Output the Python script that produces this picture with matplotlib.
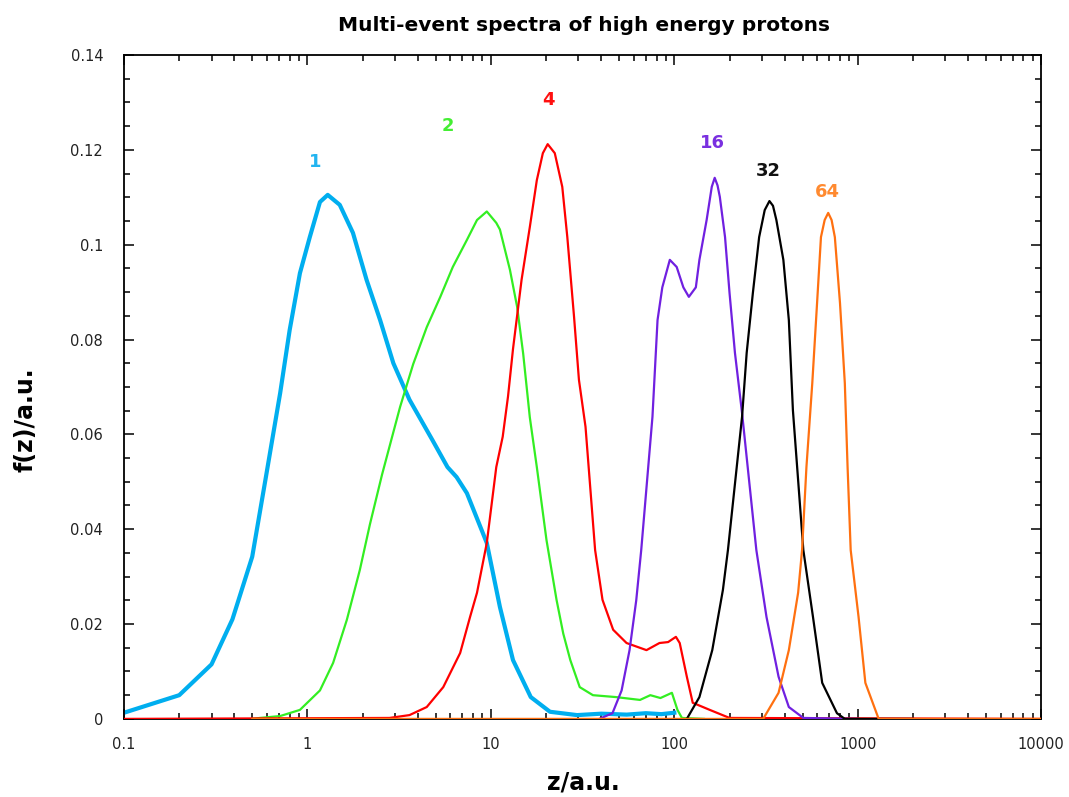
import numpy as np
import matplotlib
matplotlib.use('Agg')
import matplotlib.pyplot as plt
from matplotlib.ticker import LogLocator, FixedLocator, FuncFormatter, MultipleLocator

# curve "1" (thick cyan)
z1 = [0.1, 0.2, 0.3, 0.39, 0.5, 0.59, 0.71, 0.8, 0.91, 1.03, 1.17, 1.29, 1.5, 1.77,
      2.1, 2.49, 2.94, 3.6, 4.8, 5.8, 6.5, 7.4, 9.5, 11.2, 13.2, 16.5, 21, 29.5,
      40, 55, 70, 85, 100]
f1 = [0.0013, 0.005, 0.0115, 0.021, 0.0342, 0.0504, 0.0687, 0.082, 0.094, 0.1016,
      0.109, 0.1105, 0.1084, 0.1025, 0.0926, 0.0841, 0.075, 0.0673, 0.0588, 0.0531,
      0.051, 0.0476, 0.0371, 0.0236, 0.0124, 0.0046, 0.0015, 0.0008,
      0.0011, 0.0009, 0.0012, 0.001, 0.0013]

# curve "2" (green)
z2 = [0.5, 0.55, 0.71, 0.91, 1.17, 1.38, 1.64, 1.93, 2.19, 2.55, 3.2, 3.77, 4.47,
      5.3, 6.2, 7.4, 8.4, 9.5, 10.7, 11.2, 12.7, 13.9, 15.0, 16.3, 17.8, 20.1,
      22.8, 24.8, 27.1, 30.5, 36, 48, 65, 74, 84, 97, 104, 110, 145]
f2 = [0.0, 0.0002, 0.0006, 0.0019, 0.006, 0.0118, 0.0209, 0.0314, 0.041, 0.0515,
      0.0658, 0.0748, 0.0826, 0.089, 0.0953, 0.101, 0.1052, 0.107, 0.1046, 0.1032,
      0.0947, 0.0869, 0.077, 0.0636, 0.0531, 0.0377, 0.0251, 0.018, 0.0124,
      0.0067, 0.005, 0.0046, 0.004, 0.005, 0.0044, 0.0055, 0.0019, 0.0002, 0.0]

# curve "4" (red)
z4 = [0.1, 2.8, 3.6, 4.47, 5.5, 6.8, 7.7, 8.4, 9.5, 10.7, 11.6,
      12.4, 13.2, 14.7, 16.3, 17.8, 19.2, 20.4, 22.3, 24.5, 26.1, 28.4, 30.2,
      32.8, 37, 40.6, 46.4, 54.9, 70.5, 83, 92.5, 102, 107, 117, 126, 156, 200,
      10000]
f4 = [0.0, 0.0002, 0.0008, 0.0025, 0.0067, 0.0139, 0.0215, 0.0266, 0.0371, 0.0531,
      0.0595, 0.068, 0.078, 0.0926, 0.1037, 0.1136, 0.1193, 0.1212, 0.1193, 0.1122,
      0.1016, 0.0848, 0.0715, 0.0616, 0.0356, 0.0251, 0.0188, 0.016, 0.0145,
      0.016, 0.0162, 0.0173, 0.016, 0.0089, 0.0034, 0.0019, 0.0002, 0.0]

# curve "16" (purple)
z16 = [39, 46, 51.6, 57, 62, 66, 76, 81, 86, 94.5, 103, 112, 120, 131, 137, 150,
       160, 166, 172, 177, 189, 200, 214, 234, 280, 318, 370, 421, 505, 1000]
f16 = [0.0, 0.0012, 0.006, 0.0145, 0.025, 0.0356, 0.0637, 0.0841, 0.091, 0.0968,
       0.0953, 0.091, 0.089, 0.091, 0.0968, 0.1052, 0.1122, 0.1141, 0.1125, 0.1101,
       0.1016, 0.0898, 0.0772, 0.0645, 0.0356, 0.0215, 0.0089, 0.0025, 0.0002, 0.0]

# curve "32" (black)
z32 = [117, 137, 161, 184, 196, 234, 248, 268, 290, 311, 330, 345, 360, 393, 421,
       443, 505, 570, 640, 770, 850, 2000]
f32 = [0.0, 0.0046, 0.0145, 0.0272, 0.0356, 0.0637, 0.0772, 0.0898, 0.1016,
       0.1073, 0.1092, 0.1082, 0.1052, 0.0968, 0.0841, 0.0651, 0.0356, 0.0215,
       0.0076, 0.0012, 0.0, 0.0]

# curve "64" (orange)
z64 = [0.5, 305, 370, 421, 473, 497, 525, 565, 600, 630, 660, 690, 720, 750, 800,
       850, 880, 915, 1010, 1100, 1300, 10000]
f64 = [0.0, 0.0, 0.0055, 0.0145, 0.0266, 0.0356, 0.0531, 0.0708, 0.0877, 0.1016,
       0.1052, 0.1067, 0.1052, 0.1016, 0.0877, 0.0708, 0.0531, 0.0356, 0.0215,
       0.0076, 0.0, 0.0]

labels = ['1', '2', '4', '16', '32', '64']
label_pos = [(1.1, 0.1175), (5.8, 0.125), (20.5, 0.1305), (162, 0.1215),
             (325, 0.1155), (680, 0.1112)]
line_colors = ['#00aeef', '#33ee22', '#ff0000', '#7020e0', '#000000', '#ff7010']
text_colors = ['#22b4f0', '#44ee33', '#ff1010', '#7a30e0', '#111111', '#ff8a30']

xticks = [0.1, 1, 10, 100, 1000, 10000]
xticklabels = ['0.1', '1', '10', '100', '1000', '10000']

fig = plt.figure(figsize=(10.69, 7.97), dpi=100)
ax = fig.add_axes([0.116, 0.098, 0.858, 0.833])

series = [(z1, f1), (z2, f2), (z4, f4), (z16, f16), (z32, f32), (z64, f64)]
for i, (z, f) in enumerate(series):
    lw = 3.0 if i == 0 else 1.6
    ax.plot(z, f, color=line_colors[i], lw=lw, zorder=2 + i)

for i, t in enumerate(labels):
    ax.text(label_pos[i][0], label_pos[i][1], t, color=text_colors[i],
            fontsize=13, fontweight='bold', ha='center', va='center')

ax.set_xscale('log')
ax.set_xlim(0.1, 10000)
ax.set_ylim(0, 0.14)
ax.xaxis.set_major_locator(FixedLocator(xticks))
ax.xaxis.set_major_formatter(FuncFormatter(lambda v, p: xticklabels[xticks.index(v)] if v in xticks else ''))
ax.xaxis.set_minor_locator(LogLocator(base=10, subs=np.arange(2, 10)))
ax.xaxis.set_minor_formatter(FuncFormatter(lambda v, p: ''))
ax.yaxis.set_major_locator(MultipleLocator(0.02))
ax.yaxis.set_minor_locator(MultipleLocator(0.005))
ax.yaxis.set_major_formatter(FuncFormatter(lambda v, p: '%g' % round(v, 3)))

ax.tick_params(which='both', direction='in', top=True, right=True, width=1.1)
ax.tick_params(which='major', length=7, labelsize=10.5, labelcolor='#222222')
ax.tick_params(axis='x', which='major', pad=13)
ax.tick_params(axis='y', which='major', pad=15)
ax.tick_params(which='minor', length=4)
for s in ax.spines.values():
    s.set_linewidth(1.3)

fig.text(0.546, 0.968, 'Multi-event spectra of high energy protons',
         ha='center', va='center', fontsize=14.5, fontweight='bold')
fig.text(0.546, 0.018, 'z/a.u.', ha='center', va='center', fontsize=17, fontweight='bold')
fig.text(0.024, 0.473, 'f(z)/a.u.', ha='center', va='center', rotation=90,
         fontsize=17, fontweight='bold')

fig.savefig('out.png', dpi=100)
